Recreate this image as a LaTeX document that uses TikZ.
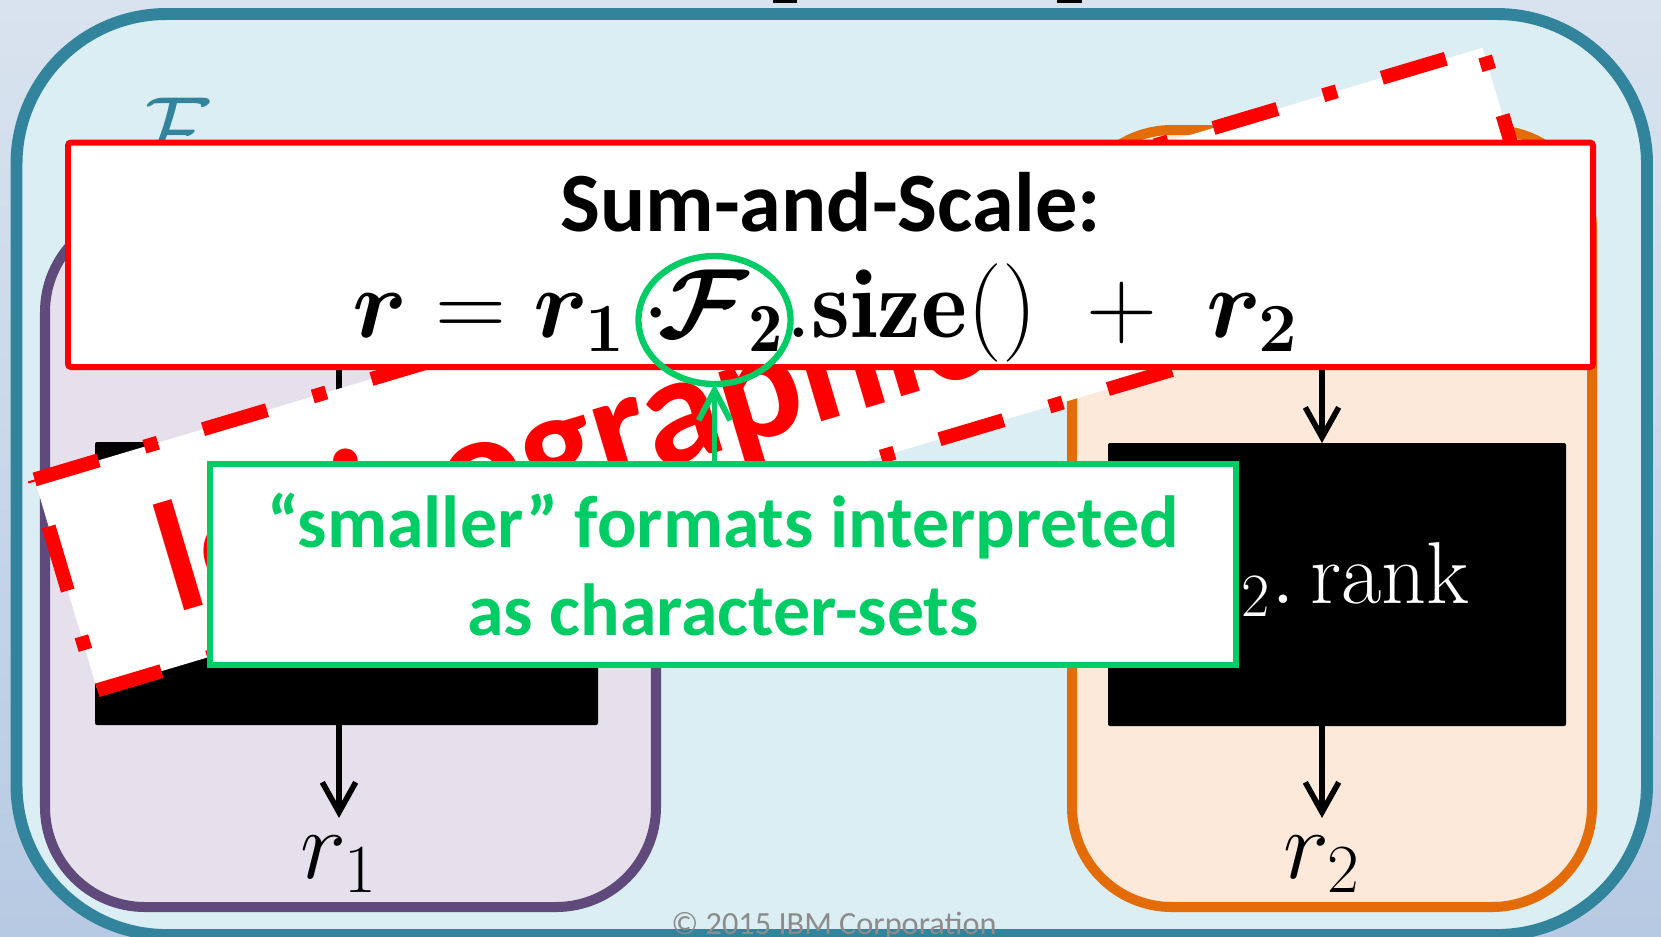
\documentclass[tikz,border=0pt]{standalone}
\usepackage{fix-cm}
\usepackage{amsmath,amssymb}
\usepackage{bm}
\usepackage{fontspec}
\newfontfamily\carlito{Carlito}
\usetikzlibrary{arrows.meta,positioning,shapes.geometric}
\definecolor{skyfill}{HTML}{DAEEF3}
\definecolor{tealline}{HTML}{31849B}
\definecolor{plumline}{HTML}{604A7B}
\definecolor{plumfill}{HTML}{E5E0EC}
\definecolor{rustline}{HTML}{E36C09}
\definecolor{rustfill}{HTML}{FDE9D9}
\definecolor{mintline}{HTML}{00CC66}
\definecolor{bgtop}{RGB}{217,227,239}
\definecolor{bgbot}{RGB}{183,202,227}
\definecolor{copygray}{RGB}{140,140,140}

\tikzset{
  fmtbox/.style={line width=2.85pt, rounded corners=10mm},
  blkbox/.style={fill=black, rounded corners=0.2mm, inner sep=0pt, outer sep=0pt, anchor=north west},
  blkarr/.style={line width=1.6pt, -{Straight Barb[length=8.5pt,width=9.5pt]}},
  grnarr/.style={mintline, line width=1.7pt, -{Straight Barb[length=8.5pt,width=9pt]}},
  banner/.style={red, line width=4pt, dash pattern=on 19pt off 13.6pt on 4pt off 13.4pt},
  mathlbl/.style={inner sep=0pt, font=\fontsize{28}{30}\selectfont},
}

\begin{document}
\begin{tikzpicture}[x=0.1mm, y=-0.1mm]
\useasboundingbox (0,0) rectangle (1661,936);
% backdrop of the slide
\shade[top color=bgtop, bottom color=bgbot] (0,0) rectangle (1661,936);
% outer format
\draw[fmtbox, tealline, fill=skyfill, line width=3.4pt, rounded corners=15mm] (16.5,14) rectangle (1647,935);
\node[mathlbl, tealline, anchor=base west] (fbig) at (128,165) {$\mathcal{F}$};
% feet of the heading above the crop
\fill (773,0) rectangle (797,3);
\fill (1057,0) rectangle (1082,3);

% the two inner formats
\draw[fmtbox, plumline, fill=plumfill] (45,212) rectangle (656,907);
\draw[fmtbox, rustline, fill=rustfill] (1072,130) rectangle (1592,907);
\node[blkbox, minimum width=50.3mm, minimum height=28.3mm] (lblk) at (95,442) {};
\node[blkbox, minimum width=45.8mm, minimum height=28.3mm] (rblk) at (1108,443) {};
\node[white, anchor=base east, inner sep=0pt, font=\fontsize{25}{30}\selectfont] (rrank) at (1470,603) {${\mathcal{F}\mkern5mu}_2.\,\mathrm{rank}$};

% results
\node[mathlbl, anchor=base] (rone) at (339,878) {$r_1$};
\node[mathlbl, anchor=base] (rtwo) at (1322,878) {$r_2$};
\coordinate (lsrc) at (339,300);
\coordinate (rsrc) at (1322,300);
\draw[blkarr] (lsrc) -- (lsrc |- lblk.north);
\draw[blkarr] (rsrc) -- (rsrc |- rblk.north);
\draw[blkarr] (rone.north |- lblk.south) -- ([yshift=1.7mm]rone.north);
\draw[blkarr] (rtwo.north |- rblk.south) -- ([yshift=1.7mm]rtwo.north);

% tilted banner
\begin{scope}[shift={(790,369)}, rotate=16.6]
\fill[white] (-755.5,-110) rectangle (755.5,110);
\draw[banner] (-755.5,-110) -- (755.5,-110);
\draw[banner, dash phase=30pt] (755.5,-110) -- (755.5,110);
\draw[banner] (-755.5,110) -- (755.5,110);
\draw[banner, dash phase=36pt] (-755.5,-110) -- (-755.5,110);
\node[red, rotate=16.6, anchor=base west, inner sep=0pt, font=\carlito\bfseries\fontsize{44.7}{50}\selectfont] (lexword) at (-659.5,59) {lexicographic};
\end{scope}

% sum-and-scale box
\draw[red, fill=white, line width=1.7pt, rounded corners=0.3mm] (68,142.5) rectangle (1593,367);
\node[anchor=base, inner sep=0pt, font=\carlito\bfseries\fontsize{24}{28}\selectfont] (sumtitle) at (830.5,231) {Sum-and-Scale:};
\node[mathlbl, anchor=base west] (sumeq) at (352,337)
  {$\bm{r} = \bm{r_1}\,{\cdot}\mkern-2mu\bm{\mathcal{F}}_{\mathbf{2}}\mathbf{.size}() \;+\; \bm{r_2}$};

% remark
\node[draw=mintline, fill=white, line width=1.7pt, anchor=north west, outer sep=0pt, inner sep=0pt,
  minimum width=102.6mm, minimum height=20.05mm, align=center, text=mintline,
  font=\carlito\bfseries\fontsize{21}{25}\selectfont] (gbox) at (210,464)
  {“smaller” formats interpreted\\as character-sets};
\node[draw=mintline, line width=1.8pt, ellipse, minimum width=15.2mm, minimum height=12.8mm,
  inner sep=0pt, outer sep=0pt] (gring) at (714.5,320) {};
\draw[grnarr] (gring.south |- gbox.north) -- (gring.south);

\node[copygray, anchor=base, inner sep=0pt, font=\carlito\fontsize{9.2}{10}\selectfont] (ibmnote) at (834,934) {© 2015 IBM Corporation};
\end{tikzpicture}
\end{document}
